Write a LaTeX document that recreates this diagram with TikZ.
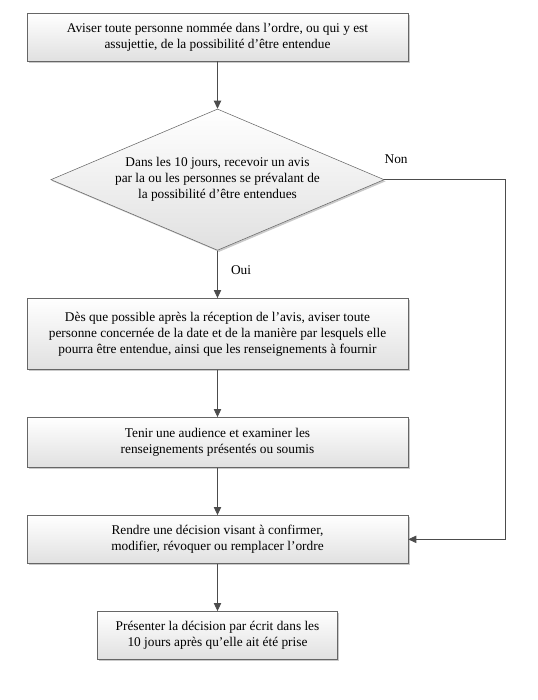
\documentclass[tikz,border=0pt]{standalone}
\usepackage{fontspec}
\setmainfont{Liberation Serif}
\usepackage{tikz}
\usetikzlibrary{arrows.meta,positioning,shapes.geometric,shadows}
\tikzset{
  box/.style={draw=black!60, align=center, top color=white, bottom color=black!12,
    drop shadow={shadow xshift=1.2pt, shadow yshift=-1.2pt, fill=black!35, opacity=0.6},
    minimum width=285.75pt, inner sep=3pt, font=\rmfamily\normalsize},
  decision/.style={box, diamond, aspect=2.34, minimum width=250pt, minimum height=106pt, inner sep=0pt},
  arr/.style={-{Triangle[length=6pt,width=5.5pt]}, draw=black!70, line width=0.6pt},
  lbl/.style={inner sep=0pt, font=\rmfamily\normalsize}
}
\begin{document}
\begin{tikzpicture}[x=0.75pt, y=-0.75pt, node distance=35.6pt]
  \useasboundingbox (0,0) rectangle (538,700);
  \node[box, minimum height=36pt] (aviser) at (217.5,37)
    {Aviser toute personne nommée dans l’ordre, ou qui y est\\assujettie, de la possibilité d’être entendue};
  \node[decision, below=of aviser] (recevoir)
    {Dans les 10 jours, recevoir un avis\\par la ou les personnes se prévalant de\\la possibilité d’être entendues};
  \node[box, minimum height=53.25pt, below=of recevoir] (notifier)
    {Dès que possible après la réception de l’avis, aviser toute\\personne concernée de la date et de la manière par lesquels elle\\pourra être entendue, ainsi que les renseignements à fournir};
  \node[box, minimum height=37.5pt, below=of notifier] (audience)
    {Tenir une audience et examiner les\\renseignements présentés ou soumis};
  \node[box, minimum height=36pt, below=of audience] (rendre)
    {Rendre une décision visant à confirmer,\\modifier, révoquer ou remplacer l’ordre};
  \node[box, minimum width=180pt, minimum height=36pt, below=of rendre] (presenter)
    {Présenter la décision par écrit dans les\\10 jours après qu’elle ait été prise};

  \coordinate (rside) at (505,0);
  \node[lbl, anchor=south west] (non) at ([yshift=12pt]recevoir.east) {Non};
  \node[lbl, anchor=west] (oui) at ([xshift=10pt, yshift=-15pt]recevoir.south) {Oui};

  \draw[arr] (aviser) -- (recevoir);
  \draw[arr] (recevoir) -- (notifier);
  \draw[arr] (notifier) -- (audience);
  \draw[arr] (audience) -- (rendre);
  \draw[arr] (rendre) -- (presenter);
  \draw[arr] (recevoir.east) -- (recevoir.east -| rside) |- (rendre.east);
\end{tikzpicture}
\end{document}
